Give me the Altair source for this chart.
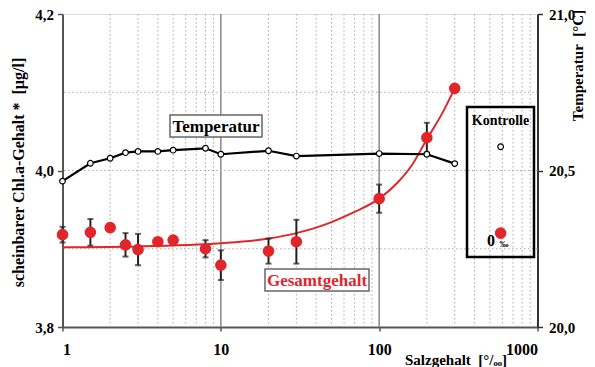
import altair as alt
import pandas as pd

# ---- data ----
salinity = [1, 1.5, 2, 2.5, 3, 4, 5, 8, 10, 20, 30, 100, 200, 300]
temperature = [20.466, 20.523, 20.539, 20.557, 20.561, 20.561, 20.565, 20.571,
               20.552, 20.563, 20.546, 20.554, 20.552, 20.522]
chl = [3.918, 3.921, 3.927, 3.905, 3.899, 3.909, 3.911, 3.900,
       3.879, 3.897, 3.909, 3.964, 4.042, 4.105]
chl_err = [0.010, 0.017, 0.0, 0.015, 0.020, 0.004, 0.004, 0.011,
           0.019, 0.016, 0.028, 0.018, 0.019, 0.0]

fit_x = [1, 3, 10, 20, 30, 40, 50, 70, 100, 130, 160, 200, 250, 300]
fit_y = [3.902, 3.903, 3.907, 3.913, 3.920, 3.927, 3.934, 3.947, 3.964,
         3.984, 4.006, 4.040, 4.073, 4.105]

control_x = [585]
control_temp = [20.576]
control_chl = [3.920]

minor_grid = [2, 3, 4, 5, 6, 7, 8, 9, 20, 30, 40, 50, 60, 70, 80, 90,
              200, 300, 400, 500, 600, 700, 800, 900]
major_grid = [10, 100]
h_grid = [3.9, 4.0, 4.1]

x_ticks = [1, 10, 100, 1000]
chl_ticks = [3.8, 4.0, 4.2]
temp_ticks = [20.0, 20.5, 21.0]

# ---- tables ----
main = pd.DataFrame({"s": salinity, "t": temperature, "c": chl, "e": chl_err})
main["lo"] = main["c"] - main["e"]
main["hi"] = main["c"] + main["e"]
fit = pd.DataFrame({"s": fit_x, "c": fit_y})
ctrl = pd.DataFrame({"s": control_x, "t": control_temp, "c": control_chl})
vminor = pd.DataFrame({"s": minor_grid})
vmajor = pd.DataFrame({"s": major_grid})
hgrid = pd.DataFrame({"c": h_grid})
one = pd.DataFrame({"k": [0]})

RED = "#e0262b"
FONT = "Liberation Serif, Times New Roman, serif"
NB = "\u00a0"
W, H = 475, 313

xscale = alt.Scale(type="log", domain=[1, 1000], nice=False)
xaxis = alt.Axis(values=x_ticks, format="d", grid=False,
                 domainColor="#555", domainWidth=2, tickColor="#555",
                 tickSize=4, tickWidth=1.5, labelPadding=10,
                 labelFont=FONT, labelFontSize=16, labelFontWeight="bold",
                 labelColor="black",
                 title="Salzgehalt" + NB + NB + "[°/ₒₒ]", titleFont=FONT,
                 titleFontSize=15, titleFontWeight="bold", titleColor="black",
                 titleX=342, titleY=32, titleAlign="left",
                 titleBaseline="middle")


def X(field):
    return alt.X(field, type="quantitative", scale=xscale, axis=xaxis)


cscale = alt.Scale(domain=[3.8, 4.2], zero=False, nice=False)
caxis = alt.Axis(values=chl_ticks,
                 labelExpr="replace(format(datum.value, '.1f'), '.', ',')",
                 grid=False, domainColor="#555", domainWidth=2,
                 tickColor="#555", tickSize=5, tickWidth=1.5, labelPadding=4,
                 labelFont=FONT, labelFontSize=15, labelFontWeight="bold",
                 labelColor="black",
                 title="scheinbarer Chl.a-Gehalt *" + NB + NB + "[µg/l]",
                 titleFont=FONT, titleFontSize=16, titleFontWeight="bold",
                 titleColor="black", titleAngle=270, titleX=-44, titleY=158,
                 titleAlign="center", titleBaseline="middle")


def YC(field):
    return alt.Y(field, type="quantitative", scale=cscale, axis=caxis)


tscale = alt.Scale(domain=[20, 21], zero=False, nice=False)
taxis = alt.Axis(orient="right", values=temp_ticks,
                 labelExpr="replace(format(datum.value, '.1f'), '.', ',')",
                 grid=False, domainColor="#333", domainWidth=2,
                 tickColor="#333", tickSize=5, tickWidth=1.5, labelPadding=6,
                 labelFont=FONT, labelFontSize=15, labelFontWeight="bold",
                 labelColor="black",
                 title="Temperatur" + NB + NB + "[°C]", titleFont=FONT,
                 titleFontSize=15, titleFontWeight="bold", titleColor="black",
                 titleAngle=270, titleX=40, titleY=51, titleAlign="center",
                 titleBaseline="middle")


def YT(field):
    return alt.Y(field, type="quantitative", scale=tscale, axis=taxis)


# ---- grid ----
g_minor = alt.Chart(vminor).mark_rule(color="#aaa", strokeWidth=1,
                                      strokeDash=[1.5, 2.5]).encode(x=X("s"))
g_major = alt.Chart(vmajor).mark_rule(color="#888", strokeWidth=1.5).encode(x=X("s"))
g_h = alt.Chart(hgrid).mark_rule(color="#aaa", strokeWidth=1,
                                 strokeDash=[1.5, 2.5]).encode(y=YC("c"))

# ---- chlorophyll ----
curve = alt.Chart(fit).mark_line(color=RED, strokeWidth=2,
                                 interpolate="monotone").encode(x=X("s"), y=YC("c"))
ebar = alt.Chart(main).mark_rule(color="#222", strokeWidth=2).encode(
    x=X("s"), y=YC("lo"), y2="hi")
cap_lo = alt.Chart(main).mark_tick(color="#222", orient="horizontal", size=6,
                                   thickness=2).encode(x=X("s"), y=YC("lo"))
cap_hi = alt.Chart(main).mark_tick(color="#222", orient="horizontal", size=6,
                                   thickness=2).encode(x=X("s"), y=YC("hi"))
pts = alt.Chart(main).mark_circle(color=RED, size=135, opacity=1).encode(
    x=X("s"), y=YC("c"))
ctrl_pt = alt.Chart(ctrl).mark_circle(color=RED, size=135, opacity=1).encode(
    x=X("s"), y=YC("c"))

# ---- annotations (pixel positions in plot area) ----
ox, oy = 62.5, 14


def box(x1, x2, y1, y2, stroke, sw, fill):
    return alt.Chart(one).mark_rect(fill=fill, stroke=stroke, strokeWidth=sw).encode(
        x=alt.value(x1 - ox), x2=alt.value(x2 - ox),
        y=alt.value(y1 - oy), y2=alt.value(y2 - oy))


def label(txt, x, y, size, color="black", align="center"):
    return alt.Chart(one).mark_text(text=txt, font=FONT, fontSize=size,
                                    fontWeight="bold", color=color, align=align,
                                    baseline="middle").encode(
        x=alt.value(x - ox), y=alt.value(y - oy))


temp_box = box(170, 262, 115, 137, "#666", 1.5, "white")
temp_lbl = label("Temperatur", 216, 126.5, 17)
ges_box = box(265, 369, 269, 291, "#666", 1.5, "white")
ges_lbl = label("Gesamtgehalt", 317, 280.5, 17, RED)
k_box = box(467, 534, 107, 257, "black", 2.5, "transparent")
k_lbl = label("Kontrolle", 500.5, 120.5, 14)
zero_lbl = label("0", 491, 240.5, 16)
permil_lbl = label("‰", 504, 244, 9)

chl_group = alt.layer(g_minor, g_major, g_h, curve, ebar, cap_lo, cap_hi, pts,
                      ges_box, ges_lbl, temp_box, temp_lbl, k_box, k_lbl,
                      ctrl_pt, zero_lbl, permil_lbl)

# ---- temperature ----
tline = alt.Chart(main).mark_line(color="black", strokeWidth=2.2).encode(
    x=X("s"), y=YT("t"))
tpts = alt.Chart(main).mark_circle(fill="white", stroke="black", strokeWidth=1.2,
                                   size=32, opacity=1).encode(x=X("s"), y=YT("t"))
tctrl = alt.Chart(ctrl).mark_circle(fill="white", stroke="black", strokeWidth=1.2,
                                    size=32, opacity=1).encode(x=X("s"), y=YT("t"))
temp_group = alt.layer(tline, tpts, tctrl)

chart = alt.layer(chl_group, temp_group).resolve_scale(y="independent").properties(
    width=W, height=H,
    padding={"left": 54.5, "top": 6, "right": 49.5, "bottom": 44},
    autosize=alt.AutoSizeParams(type="none"),
).configure_view(stroke="#888", strokeWidth=1).configure(background="white")

chart.save("out.html", embed_options={"renderer": "svg", "actions": False})
